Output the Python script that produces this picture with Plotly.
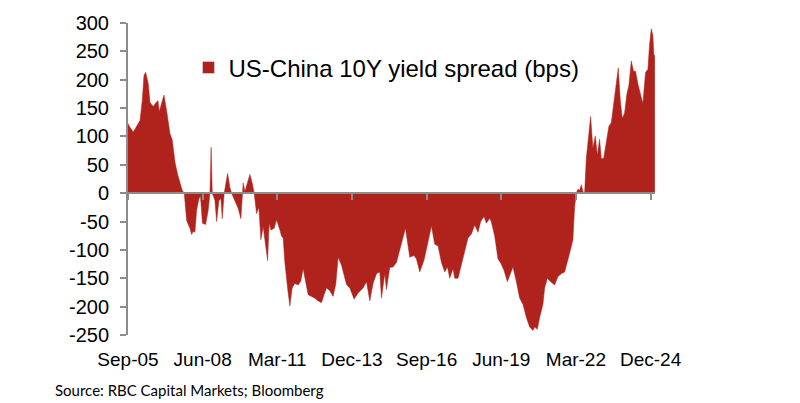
import plotly.graph_objects as go

# time in decimal years, spread in bps
years = [2005.667, 2005.715, 2005.862, 2006.024, 2006.109, 2006.193, 2006.256, 2006.318, 2006.414, 2006.477,
         2006.598, 2006.723, 2006.771, 2006.819, 2006.907, 2006.992, 2007.091, 2007.139, 2007.213, 2007.297,
         2007.360, 2007.397, 2007.496, 2007.581, 2007.665, 2007.739, 2007.827, 2007.886, 2007.949, 2008.011,
         2008.070, 2008.133, 2008.195, 2008.280, 2008.335, 2008.409, 2008.527, 2008.622, 2008.685, 2008.729,
         2008.773, 2008.869, 2008.931, 2009.016, 2009.090, 2009.138, 2009.211, 2009.336, 2009.421, 2009.484,
         2009.605, 2009.726, 2009.826, 2009.874, 2009.910, 2009.973, 2010.058, 2010.157, 2010.242, 2010.315,
         2010.404, 2010.488, 2010.562, 2010.647, 2010.709, 2010.809, 2010.867, 2010.930, 2011.051, 2011.140,
         2011.261, 2011.324, 2011.383, 2011.445, 2011.545, 2011.629, 2011.714, 2011.813, 2011.935, 2012.034,
         2012.119, 2012.207, 2012.303, 2012.428, 2012.549, 2012.671, 2012.796, 2012.881, 2012.980, 2013.102,
         2013.223, 2013.322, 2013.407, 2013.532, 2013.716, 2013.838, 2013.996, 2014.143, 2014.327, 2014.452,
         2014.574, 2014.695, 2014.820, 2014.942, 2015.004, 2015.126, 2015.188, 2015.310, 2015.432, 2015.557,
         2015.623, 2015.740, 2015.888, 2016.046, 2016.204, 2016.293, 2016.414, 2016.572, 2016.697, 2016.845,
         2016.966, 2017.088, 2017.213, 2017.334, 2017.434, 2017.518, 2017.640, 2017.702, 2017.824, 2017.949,
         2018.070, 2018.192, 2018.317, 2018.438, 2018.560, 2018.659, 2018.781, 2018.869, 2018.990, 2019.053,
         2019.175, 2019.296, 2019.395, 2019.517, 2019.642, 2019.763, 2019.848, 2019.973, 2020.095, 2020.216,
         2020.341, 2020.463, 2020.584, 2020.647, 2020.746, 2020.831, 2020.952, 2021.015, 2021.114, 2021.236,
         2021.383, 2021.504, 2021.629, 2021.751, 2021.872, 2021.972, 2022.056, 2022.119, 2022.181, 2022.240,
         2022.303, 2022.365, 2022.424, 2022.487, 2022.549, 2022.645, 2022.708, 2022.793, 2022.881, 2022.955,
         2023.039, 2023.102, 2023.187, 2023.286, 2023.382, 2023.470, 2023.554, 2023.654, 2023.727, 2023.801,
         2023.874, 2023.959, 2024.044, 2024.117, 2024.206, 2024.290, 2024.364, 2024.449, 2024.537, 2024.633,
         2024.732, 2024.817, 2024.879, 2024.942, 2025.001, 2025.038, 2025.074]

spread = [123, 118, 108, 121, 128, 164, 208, 213, 193, 160,
          153, 161, 163, 144, 160, 173, 145, 125, 105, 94,
          67, 55, 33, 18, 5, 0, -48, -55, -62, -73,
          -67, -69, -30, -10, -5, -53, -55, -30, 0, 81,
          0, -13, -50, -13, -10, -45, 0, 35, 10, 0,
          -13, -27, -45, 0, 18, 3, 18, 33, 18, 0,
          -36, -25, -82, -59, -82, -119, -53, -65, -62, -47,
          -65, -76, -79, -122, -167, -199, -167, -159, -162, -155,
          -133, -153, -179, -182, -185, -190, -193, -180, -167, -172,
          -182, -160, -113, -127, -161, -167, -187, -176, -167, -156,
          -190, -159, -142, -139, -185, -142, -170, -131, -130, -122,
          -110, -90, -62, -113, -110, -116, -139, -118, -90, -58,
          -90, -93, -122, -139, -130, -150, -133, -150, -150, -125,
          -99, -79, -72, -56, -69, -50, -41, -53, -44, -51,
          -76, -116, -123, -136, -156, -139, -130, -156, -185, -196,
          -219, -236, -242, -236, -240, -219, -196, -167, -150, -156,
          -162, -147, -142, -139, -119, -99, -82, -24, 0, 7,
          5, 15, 3, 0, 61, 107, 135, 79, 101, 67,
          95, 61, 61, 90, 118, 124, 153, 193, 221, 164,
          132, 141, 175, 190, 233, 215, 215, 193, 175, 158,
          213, 218, 261, 290, 278, 244, 242]

x_tick_vals = [2005.667, 2008.417, 2011.167, 2013.917, 2016.667, 2019.417, 2022.167, 2024.917]
x_tick_text = ["Sep-05", "Jun-08", "Mar-11", "Dec-13", "Sep-16", "Jun-19", "Mar-22", "Dec-24"]
y_tick_vals = [300, 250, 200, 150, 100, 50, 0, -50, -100, -150, -200, -250]
y_tick_text = ["300", "250", "200", "150", "100", "50", "0", "-50", "-100", "-150", "-200", "-250"]

series_name = "US-China 10Y yield spread (bps)"
RED = "#B0221C"
GREY = "#8C8C8C"
FONT = "Liberation Sans, Arial, sans-serif"

fig = go.Figure()
fig.add_trace(go.Scatter(x=years, y=spread, fill="tozeroy", mode="lines",
                         line=dict(color=RED, width=0.5), fillcolor=RED,
                         showlegend=False, hoverinfo="skip"))
# invisible copy so the zero-line axis (x2) is drawn
fig.add_trace(go.Scatter(x=years, y=spread, xaxis="x2", mode="lines",
                         line=dict(color="rgba(0,0,0,0)", width=0),
                         showlegend=False, hoverinfo="skip"))
# legend entry (square swatch)
fig.add_trace(go.Bar(x=[None], y=[None], name=series_name, marker_color=RED, showlegend=True))

x_range = [2005.667, 2025.08]
y_range = [-250, 300]
zero_pos = (0 - y_range[0]) / (y_range[1] - y_range[0])

fig.update_layout(
    width=800, height=403,
    margin=dict(l=128, r=145, t=14, b=68),
    paper_bgcolor="white", plot_bgcolor="white",
    font=dict(family=FONT, color="black"),
    showlegend=True,
    legend=dict(x=0.1148, y=0.856, xanchor="left", yanchor="middle",
                font=dict(family=FONT, size=24, color="black"),
                bgcolor="rgba(0,0,0,0)", itemwidth=30),
    xaxis=dict(range=x_range, tickvals=x_tick_vals, ticktext=x_tick_text,
               showgrid=False, zeroline=False, showline=False, ticks="",
               tickfont=dict(family=FONT, size=19, color="black"),
               ticklabelstandoff=11),
    xaxis2=dict(range=x_range, matches="x", overlaying="x", anchor="free", position=zero_pos,
                tickvals=x_tick_vals, showticklabels=False, showgrid=False, zeroline=False,
                showline=True, linecolor=GREY, linewidth=2,
                ticks="outside", ticklen=6, tickwidth=2, tickcolor=GREY),
    yaxis=dict(range=y_range, tickvals=y_tick_vals, ticktext=y_tick_text,
               showgrid=False, zeroline=False, showline=True, linecolor=GREY, linewidth=2,
               ticks="outside", ticklen=6, tickwidth=2, tickcolor=GREY,
               tickfont=dict(family=FONT, size=20, color="black"),
               ticklabelstandoff=7),
    annotations=[dict(text="Source: RBC Capital Markets; Bloomberg", xref="paper", yref="paper",
                      x=-128/527 + 53/527, y=-57/321, xanchor="left", yanchor="middle",
                      showarrow=False, font=dict(family="Lato, Open Sans, sans-serif", size=15, color="black"))],
)

fig.write_html("out.html")
